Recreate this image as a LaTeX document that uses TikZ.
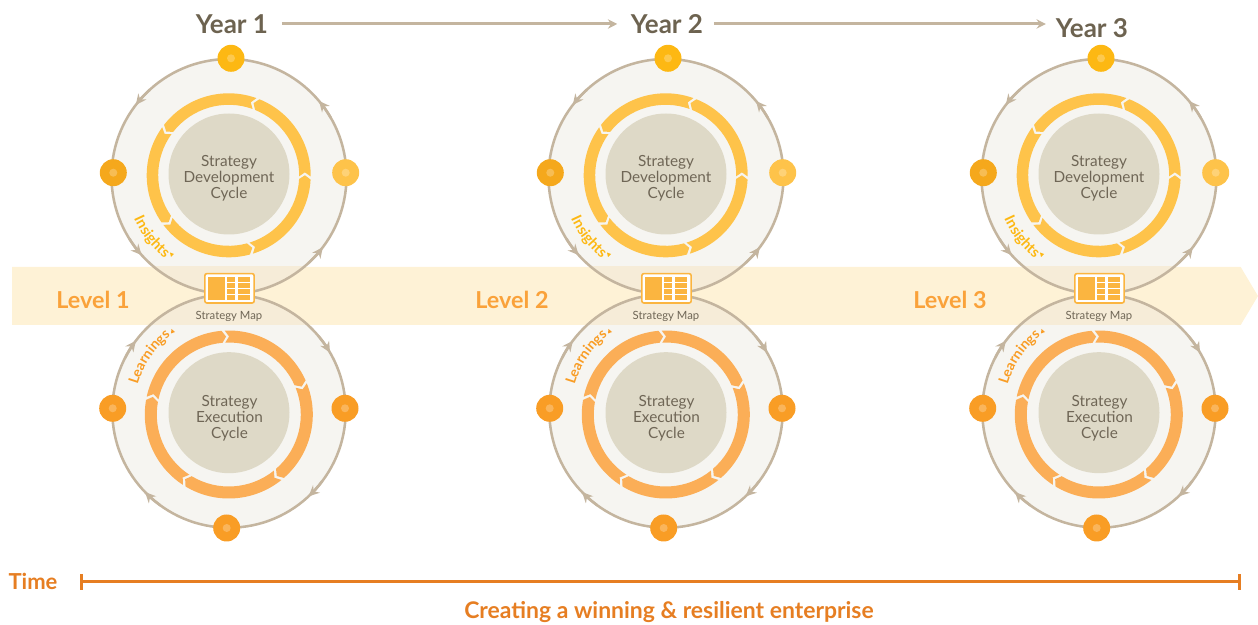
\documentclass[tikz,border=0pt]{standalone}
\usepackage{fontspec}
\setmainfont{Lato}
\usepackage{tikz}
\usetikzlibrary{arrows.meta}
\usetikzlibrary{decorations.text}
\definecolor{rimc}{HTML}{C4B59F}
\definecolor{facec}{HTML}{F6F5F1}
\definecolor{overc}{HTML}{F6ECD8}
\definecolor{bandc}{HTML}{FEF2D6}
\definecolor{corec}{HTML}{DED9C7}
\definecolor{textc}{HTML}{6F6656}
\definecolor{yearc}{HTML}{6D6350}
\definecolor{upc}{HTML}{FEC34A}
\definecolor{downc}{HTML}{FBAE57}
\definecolor{topc}{HTML}{FDB813}
\definecolor{leftc}{HTML}{F5A81C}
\definecolor{lowc}{HTML}{F99D25}
\definecolor{levelc}{HTML}{FAA23A}
\definecolor{timec}{HTML}{E67E22}
\definecolor{mapc}{HTML}{FBB540}
\tikzset{
  disc/.style={circle,fill=#1,minimum size=20.25pt,inner sep=0pt},
  core/.style={circle,fill=corec,minimum size=90.75pt,inner sep=0pt},
  cyclelabel/.style={text=textc,align=center,font=\fontsize{11.5}{12}\selectfont},
  levellabel/.style={text=levelc,font=\fontsize{17.5}{20}\selectfont\bfseries},
  yearlabel/.style={text=yearc,font=\fontsize{19.5}{22}\selectfont\bfseries},
  timelabel/.style={text=timec,font=\fontsize{16.5}{20}\selectfont\bfseries},
  goallabel/.style={text=timec,font=\fontsize{17.2}{20}\selectfont\bfseries},
  rimtip/.style={rimc,line width=1.9pt,-{Stealth[length=8pt,width=7.5pt]}},
  yeararrow/.style={rimc,line width=2.25pt,-{Stealth[length=7pt,width=7pt]}},
  timeline/.style={timec,line width=2.25pt,{Bar[width=11.5pt,line width=2.25pt]}-{Bar[width=11.5pt,line width=2.25pt]}}
}
% in radius, out radius, gap behind, gap ahead, direction
\newcommand{\ringseg}[5]{
  \pgfmathsetmacro{\segMid}{(#1+#2)/2}
  \pgfmathsetmacro{\segA}{#3-0.8*#5}
  \pgfmathsetmacro{\segN}{#3+2.2*#5}
  \pgfmathsetmacro{\segB}{#4-3*#5}
  \fill (\segA:#2) arc[start angle=\segA,end angle=\segB,radius=#2] -- (#4:\segMid)
    -- (\segB:#1) arc[start angle=\segB,end angle=\segA,radius=#1] -- (\segN:\segMid) -- cycle;
}
\begin{document}
\begin{tikzpicture}[line cap=butt,line join=miter,x=0.75pt,y=0.75pt]
  \useasboundingbox (0,0) rectangle (1258,625);
  % faces, then the band, then the overlap
  \foreach \dx in {0,437,870} {
    \fill[facec,shift={(\dx,0)}] (229,448.5) circle (117.5);
    \fill[facec,shift={(\dx,0)}] (229,214) circle (116.7);
  }
  \fill[bandc] (12,358) -- (1240.7,358) -- (1258,329) -- (1240.7,300) -- (12,300) -- cycle;
  \begin{scope}
    \clip (12,300) rectangle (1240.7,358);
    \foreach \dx in {0,437,870} {
      \fill[overc,shift={(\dx,0)}] (229,448.5) circle (117.5);
      \fill[overc,shift={(\dx,0)}] (229,214) circle (116.7);
    }
  \end{scope}
  % one column per year
  \foreach \dx/\i in {0/1,437/2,870/3} {
    \begin{scope}[shift={(\dx,0)}]
      \draw[rimc,line width=1.9pt] (229,448.5) circle (117.5);
      \draw[rimc,line width=1.9pt] (229,214) circle (116.7);
      \begin{scope}[shift={(229,448.5)}]
        \foreach \a in {38,140.5,220,321}
        \draw[rimtip] ({\a-8}:117.5) arc[start angle=\a-8,end angle=\a+2,radius=117.5];
      \end{scope}
      \begin{scope}[shift={(229,214)}]
        \foreach \a in {32,-45,-134,145}
        \draw[rimtip] ({\a+8}:116.7) arc[start angle=\a+8,end angle=\a-2,radius=116.7];
      \end{scope}
      \begin{scope}[shift={(228.7,449.7)},upc]
        \ringseg{70.5}{82}{-72}{0}{1}
        \ringseg{70.5}{82}{0}{71}{1}
        \ringseg{70.5}{82}{71}{145}{1}
        \ringseg{70.5}{82}{145}{218}{1}
        \ringseg{70.5}{82}{218}{288}{1}
      \end{scope}
      \begin{scope}[shift={(228.8,210.5)},downc]
        \ringseg{72}{84}{92}{21}{-1}
        \ringseg{72}{84}{21}{-52}{-1}
        \ringseg{72}{84}{-52}{-124}{-1}
        \ringseg{72}{84}{-124}{-193}{-1}
        \ringseg{72}{84}{-193}{-268}{-1}
      \end{scope}
      \node[core] (dev\i) at (229,451) {};
      \node[core] (exe\i) at (229,212.3) {};
      \node[cyclelabel] (devtext\i) at (229,447)
        {Strategy\\[-0.1pt]Development\\[-0.1pt]Cycle};
      \node[cyclelabel] (exetext\i) at (229.5,207)
        {Strategy\\[-0.1pt]Execution\\[-0.1pt]Cycle};
      \node[disc=topc] (ytop\i) at (231,566.7) {};
      \node[disc=leftc] (yleft\i) at (113.3,452.3) {};
      \node[disc=upc] (yright\i) at (345.7,452.3) {};
      \node[disc=lowc] (lleft\i) at (112.7,216.7) {};
      \node[disc=lowc] (lright\i) at (345,216.7) {};
      \node[disc=lowc] (lbot\i) at (226.7,97) {};
      \foreach \n in {ytop\i,yleft\i,yright\i,lleft\i,lright\i,lbot\i}
      \fill[white,opacity=0.25] (\n) circle (4);
      % the two curved words
      \path[decorate,decoration={text along path,text align=center,
        text={|\fontsize{11}{12}\selectfont\bfseries\color{topc}|Insights}}]
        (229,448.5) ++(200:104) arc[start angle=200,end angle=236,radius=104];
      \fill[topc] (170,372.5) -- (174,371) -- (171,368) -- cycle;
      \path[decorate,decoration={text along path,text align=center,
        text={|\fontsize{10.5}{12}\selectfont\bfseries\color{lowc}|Learnings}}]
        (229,214) ++(167:95) arc[start angle=167,end angle=125,radius=95];
      \fill[lowc] (171,291.5) -- (175,293) -- (171.5,296) -- cycle;
      % map icon
      \begin{scope}[shift={(229.5,336.7)}]
        \node[draw=mapc,fill=white,rounded corners=1.5pt,line width=1.2pt,minimum width=37pt,minimum height=22pt,inner sep=0pt] (map\i) at (0,0) {};
        \fill[mapc] (-22,-11.6) rectangle (-4.6,11.6);
        \foreach \r in {8.8,3,-3,-9} {
          \fill[mapc] (-2.6,\r-2.3) rectangle (5.7,\r+2.3);
          \fill[mapc] (8.4,\r-2.3) rectangle (20.7,\r+2.3);
        }
      \end{scope}
      \node[text=textc,font=\fontsize{8.5}{10}\selectfont] (maplabel\i) at (229,308.5) {Strategy Map};
    \end{scope}
  }
  \node[levellabel] (level1) at (93,325.5) {Level 1};
  \node[levellabel] (level2) at (512,325) {Level 2};
  \node[levellabel] (level3) at (950,325) {Level 3};
  \node[yearlabel] (year1) at (232,601) {Year 1};
  \node[yearlabel] (year2) at (667,601) {Year 2};
  \node[yearlabel] (year3) at (1092,597) {Year 3};
  \draw[yeararrow] ([xshift=6.75pt]year1.east) -- ([xshift=-6.75pt]year2.west);
  \draw[yeararrow] ([xshift=4.5pt]year2.east) -- ([xshift=-4pt,yshift=3pt]year3.west);
  \node[timelabel] (time) at (33,44) {Time};
  \coordinate (tstart) at (80,43);
  \coordinate (tend) at (1241,43);
  \draw[timeline] (tstart) -- (tend);
  \node[goallabel] (goal) at (669,12.5) {Creating a winning \& resilient enterprise};
\end{tikzpicture}
\end{document}
